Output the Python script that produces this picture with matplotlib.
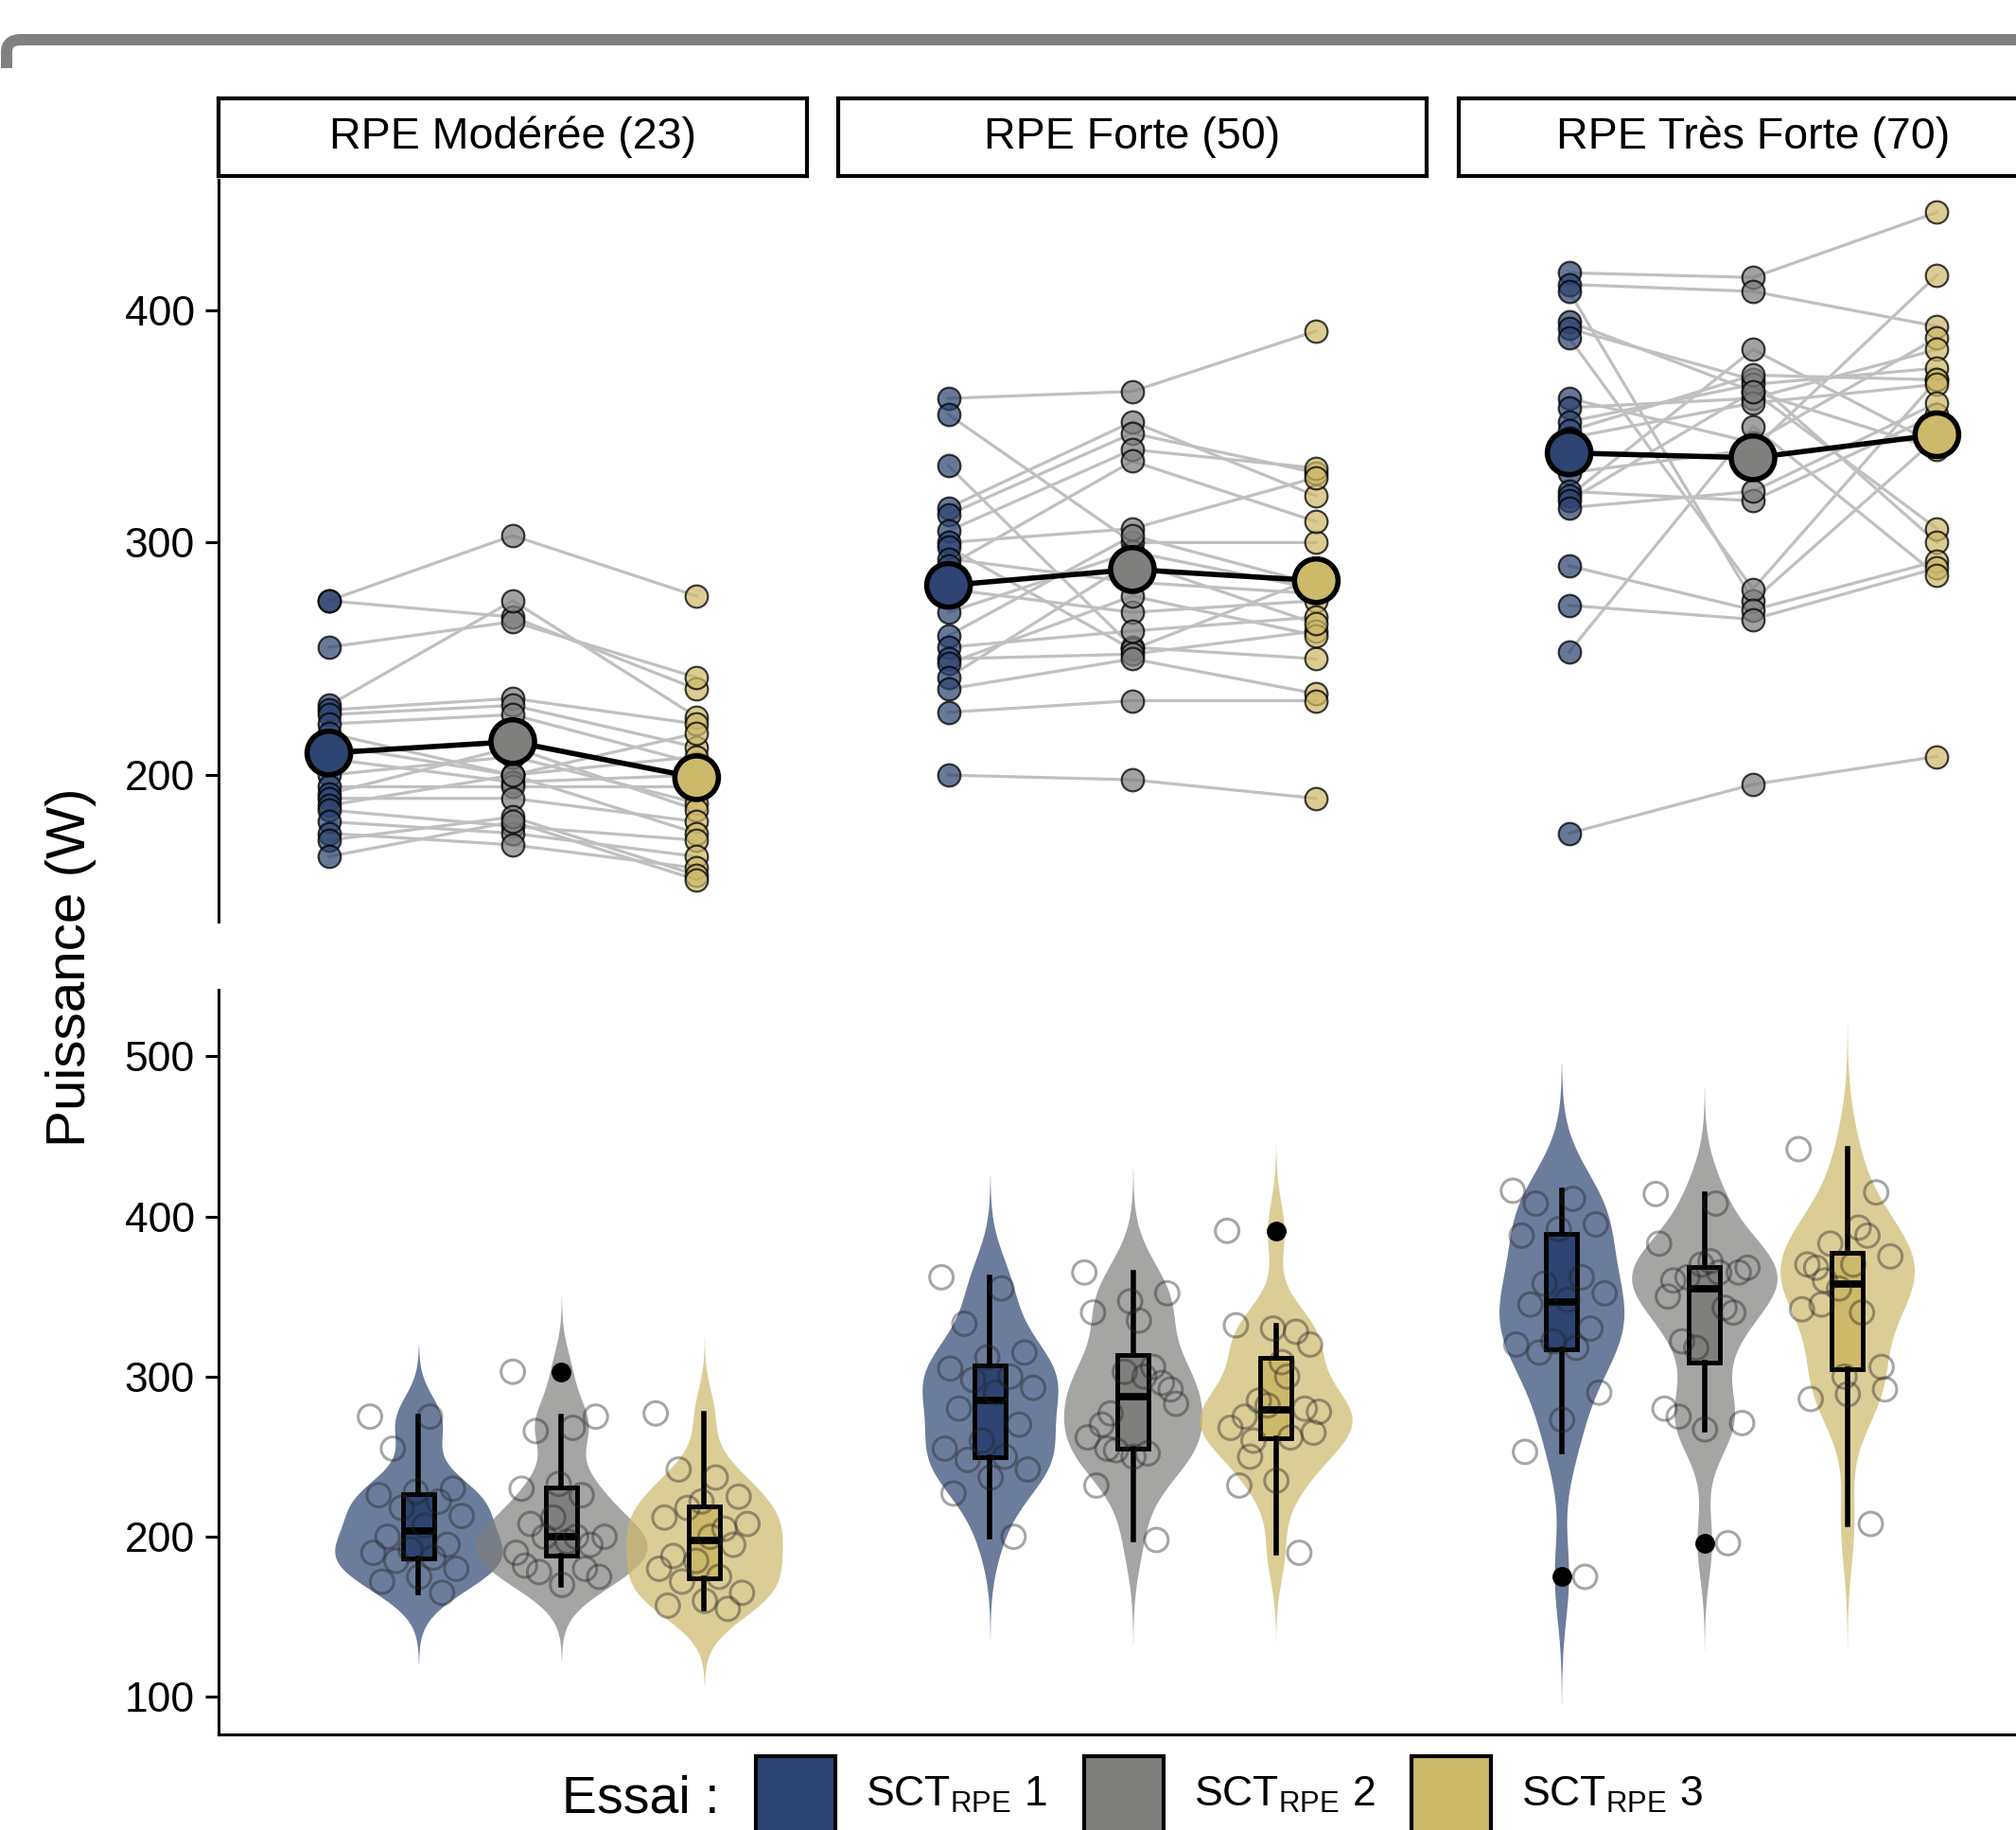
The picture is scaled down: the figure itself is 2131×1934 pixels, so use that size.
import numpy as np
import matplotlib.pyplot as plt
from matplotlib.colors import to_rgba
from matplotlib.patches import Rectangle, PathPatch
from matplotlib.path import Path

plt.rcParams['font.family'] = ['Liberation Sans', 'DejaVu Sans']
plt.rcParams['mathtext.fontset'] = 'custom'
plt.rcParams['mathtext.rm'] = 'Liberation Sans'

# categories
intensities = ['RPE Modérée (23)', 'RPE Forte (50)', 'RPE Très Forte (70)']
trial_labels = ['SCT$_{\\mathrm{RPE}}$ 1', 'SCT$_{\\mathrm{RPE}}$ 2', 'SCT$_{\\mathrm{RPE}}$ 3']
trial_colors = ['#2E4472', '#7F7F7D', '#CDB96A']

# power (W), one row per subject: trial 1, trial 2, trial 3
moderee = np.array([
    [275, 303, 277], [275, 268, 237], [255, 266, 242], [230, 275, 225],
    [228, 233, 222], [226, 230, 212], [222, 226, 205], [218, 200, 218],
    [213, 200, 208], [207, 197, 200], [200, 208, 188], [195, 195, 195],
    [192, 212, 185], [190, 190, 180], [187, 200, 175], [185, 178, 172],
    [180, 175, 165], [175, 170, 160], [172, 182, 157], [165, 180, 155]])
forte = np.array([
    [362, 365, 391], [355, 300, 300], [333, 255, 250], [315, 352, 320],
    [312, 347, 330], [305, 340, 332], [300, 306, 328], [298, 254, 285],
    [293, 283, 278], [290, 335, 309], [280, 270, 275], [270, 296, 280],
    [260, 303, 282], [255, 262, 268], [250, 252, 262], [248, 277, 260],
    [242, 292, 265], [237, 250, 235], [227, 232, 232], [200, 198, 190]])
tres_forte = np.array([
    [416, 414, 442], [411, 408, 393], [408, 275, 345], [395, 365, 306],
    [392, 370, 300], [388, 280, 370], [362, 343, 388], [358, 362, 383],
    [352, 368, 375], [348, 372, 370], [345, 360, 368], [330, 340, 415],
    [322, 318, 355], [320, 383, 342], [318, 365, 340], [315, 322, 360],
    [290, 271, 292], [273, 267, 289], [253, 350, 286], [175, 196, 208]])
datasets = [moderee, forte, tres_forte]

W, H = 2131, 1934
fig = plt.figure(figsize=(W / 100, H / 100), dpi=100)


def fx(px):
    return px / W


def fy(py):
    return 1 - py / H


# screenshot frame bar at the top
verts = [(fx(7), fy(72)), (fx(7), fy(55)), (fx(7), fy(42)), (fx(22), fy(42)), (fx(2140), fy(42))]
codes = [Path.MOVETO, Path.LINETO, Path.CURVE3, Path.CURVE3, Path.LINETO]
fig.add_artist(PathPatch(Path(verts, codes), transform=fig.transFigure, fill=False,
                         edgecolor='#808080', lw=8.6, capstyle='butt'))

# ---- top: paired lines per intensity ----
panel_left = [231, 886, 1542]
panel_w = 622
for k, (name, d) in enumerate(zip(intensities, datasets)):
    ax = fig.add_axes([fx(panel_left[k]), fy(974), panel_w / W, (974 - 190) / H])
    xs = np.arange(1, 4)
    for row in d:
        ax.plot(xs, row, color='#C0C0C0', lw=2.3, zorder=1)
    for j in range(3):
        ax.scatter(np.full(len(d), xs[j]), d[:, j], s=290,
                   facecolor=to_rgba(trial_colors[j], 0.72),
                   edgecolor=to_rgba('black', 0.75), lw=1.6, zorder=2)
    m = d.mean(axis=0)
    ax.plot(xs, m, color='black', lw=4, zorder=3)
    ax.scatter(xs, m, s=1100, facecolor=trial_colors, edgecolor='black', lw=4, zorder=4)
    ax.set_xlim(0.4, 3.6)
    ax.set_ylim(137, 456)
    ax.set_xticks([])
    for s in ['top', 'right', 'bottom']:
        ax.spines[s].set_visible(False)
    if k == 0:
        ax.spines['left'].set_linewidth(2.2)
        ax.set_yticks([200, 300, 400])
        ax.tick_params(axis='y', labelsize=32, length=10, width=2.2, pad=8)
    else:
        ax.spines['left'].set_visible(False)
        ax.set_yticks([])
    ax.patch.set_alpha(0)

    # facet strip
    st = fig.add_axes([fx(panel_left[k]), fy(186), panel_w / W, (186 - 104) / H])
    st.set_xticks([])
    st.set_yticks([])
    for s in st.spines.values():
        s.set_linewidth(3)
    st.text(0.5, 0.5, name, ha='center', va='center', fontsize=33.5, transform=st.transAxes)

# ---- bottom: violins + boxplots ----
axb = fig.add_axes([fx(231), fy(1833), (2164 - 231) / W, (1833 - 1046) / H])
offsets = [-0.25, 0.0, 0.25]


def kde(v):
    n = len(v)
    sd = v.std(ddof=1)
    q75, q25 = np.percentile(v, [75, 25])
    bw = 0.9 * min(sd, (q75 - q25) / 1.34) * n ** -0.2
    grid = np.linspace(v.min() - 3 * bw, v.max() + 3 * bw, 400)
    dens = np.exp(-0.5 * ((grid[:, None] - v[None, :]) / bw) ** 2).sum(1) / (n * bw * np.sqrt(2 * np.pi))
    return grid, dens


kdes = [[kde(d[:, j].astype(float)) for j in range(3)] for d in datasets]
gmax = max(dens.max() for row in kdes for _, dens in row)
n = len(moderee)
jit = ((np.arange(n) * 0.618034) % 1 - 0.5) * 0.17

for k, d in enumerate(datasets):
    for j in range(3):
        x = k + 1 + offsets[j]
        grid, dens = kdes[k][j]
        # softened area scaling between violins
        hw = dens / dens.max() * 0.15 * np.sqrt(dens.max() / gmax)
        axb.fill_betweenx(grid, x - hw, x + hw, color=trial_colors[j], alpha=0.7, lw=0, zorder=1)
        axb.boxplot(d[:, j], positions=[x], widths=0.055, patch_artist=True, showcaps=False,
                    manage_ticks=False,
                    boxprops=dict(facecolor=trial_colors[j], edgecolor='black', linewidth=3.5),
                    medianprops=dict(color='black', linewidth=5.5),
                    whiskerprops=dict(color='black', linewidth=4),
                    flierprops=dict(marker='o', markerfacecolor='black', markeredgecolor='black',
                                    markersize=14),
                    zorder=2)
        axb.scatter(x + jit, d[:, j], s=320, facecolor='none',
                    edgecolor=to_rgba('#222222', 0.4), lw=2.2, zorder=3)

axb.set_xlim(0.4, 3.6)
axb.set_ylim(76.6, 541.5)
axb.set_xticks([])
axb.set_yticks([100, 200, 300, 400, 500])
axb.tick_params(axis='y', labelsize=32, length=10, width=2.2, pad=8)
axb.spines['top'].set_visible(False)
axb.spines['right'].set_visible(False)
axb.spines['left'].set_linewidth(2.2)
axb.spines['bottom'].set_linewidth(2.2)
axb.patch.set_alpha(0)

fig.text(fx(75), fy(1022), 'Puissance (W)', rotation=90, ha='center', va='center', fontsize=42)

# legend
fig.text(fx(761), fy(1916), 'Essai :', ha='right', va='baseline', fontsize=40)
key_x = [799, 1146, 1492]
for j in range(3):
    fig.add_artist(Rectangle((fx(key_x[j]), fy(2000)), 84 / W, (2000 - 1856) / H,
                             transform=fig.transFigure, facecolor=trial_colors[j],
                             edgecolor='black', lw=3))
    fig.text(fx(key_x[j] + 116), fy(1909), trial_labels[j], ha='left', va='baseline', fontsize=32)

fig.savefig('out.png', dpi=100)
